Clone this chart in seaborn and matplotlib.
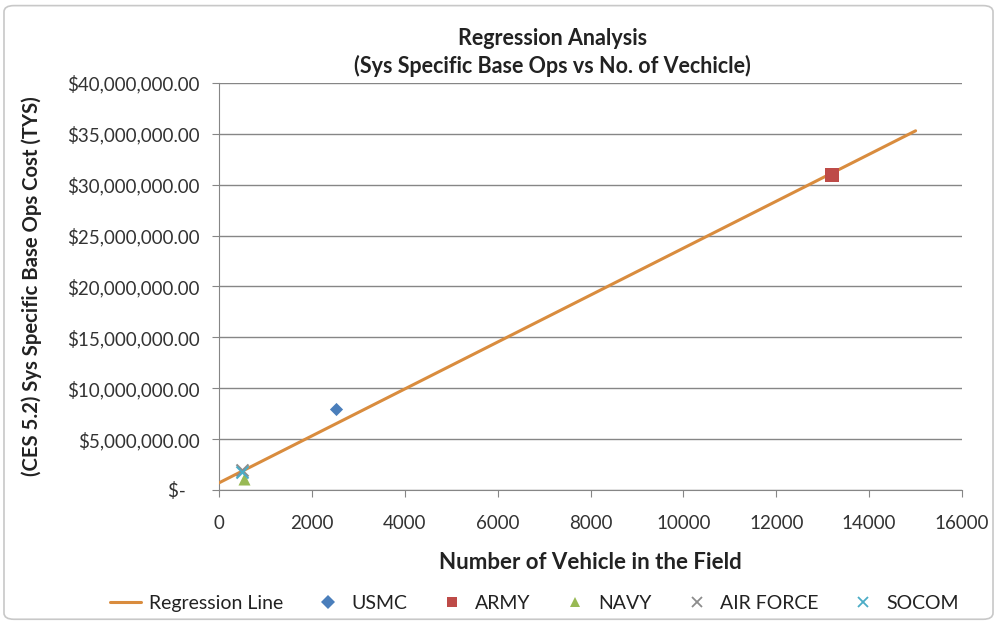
import matplotlib
matplotlib.use("Agg")
import matplotlib.pyplot as plt
import seaborn as sns
import pandas as pd
import numpy as np
from matplotlib.ticker import FuncFormatter, MultipleLocator
from matplotlib.patches import FancyBboxPatch
from matplotlib.lines import Line2D

# ---- data ----
agencies = ["USMC", "ARMY", "NAVY", "AIR FORCE", "SOCOM"]
vehicles = [2520, 13200, 540, 500, 500]
costs = [8.0e6, 31.0e6, 1.1e6, 2.0e6, 1.8e6]
reg_x = [0, 15000]
reg_y = [0.7e6, 35.3e6]
x_ticks = [0, 2000, 4000, 6000, 8000, 10000, 12000, 14000, 16000]

colors = {"USMC": "#4a7ebb", "ARMY": "#be4b48", "NAVY": "#98b954",
          "AIR FORCE": "#8c8c8c", "SOCOM": "#4bacc6"}
markers = {"USMC": "D", "ARMY": "s", "NAVY": "^", "AIR FORCE": "x", "SOCOM": "x"}
sizes = {"USMC": 45, "ARMY": 100, "NAVY": 75, "AIR FORCE": 75, "SOCOM": 75}
line_color = "#d98c3e"

sns.set_style("white")
plt.rcParams["font.family"] = ["Lato", "DejaVu Sans"]

fig = plt.figure(figsize=(9.99, 6.23), dpi=100)
ax = fig.add_axes([0.2192, 0.2135, 0.963 - 0.2192, 0.8668 - 0.2135])

reg_df = pd.DataFrame({"x": reg_x, "y": reg_y})
sns.lineplot(data=reg_df, x="x", y="y", ax=ax, color=line_color, lw=2.2, zorder=3)

pts = pd.DataFrame({"agency": agencies, "x": vehicles, "y": costs})
for a in agencies:
    sub = pts[pts["agency"] == a]
    sns.scatterplot(data=sub, x="x", y="y", ax=ax, marker=markers[a],
                    color=colors[a], s=sizes[a], linewidth=1.5 if markers[a] == "x" else 0,
                    edgecolor=colors[a], zorder=4)

ax.set_xlim(0, 16000)
ax.set_ylim(0, 40e6)
ax.set_xticks(x_ticks)
ax.yaxis.set_major_locator(MultipleLocator(5e6))

def yfmt(v, pos):
    if abs(v) < 1:
        return "$-   "
    return "${:,.2f}".format(v)

ax.yaxis.set_major_formatter(FuncFormatter(yfmt))
ax.grid(axis="y", color="#868686", lw=1)
ax.grid(axis="x", visible=False)
for s in ["top", "right"]:
    ax.spines[s].set_visible(False)
ax.spines["left"].set_color("#868686")
ax.spines["bottom"].set_color("#868686")
ax.tick_params(axis="both", which="major", direction="out", length=5, color="#868686",
               labelsize=13.5, labelcolor="#333333", left=True, bottom=True)
ax.tick_params(axis="y", pad=9)
ax.tick_params(axis="x", pad=13)
ax.set_axisbelow(True)

ax.set_xlabel("Number of Vehicle in the Field", fontsize=16, fontweight="bold",
              color="#222222")
ax.set_ylabel("(CES 5.2) Sys Specific Base Ops Cost (TYS)", fontsize=14.6,
              fontweight="bold", color="#222222")
ax.xaxis.set_label_coords(0.5, -0.152)
ax.yaxis.set_label_coords(-0.238, 0.5)

fig.text(0.553, 0.939, "Regression Analysis", ha="center", va="center",
         fontsize=15.5, fontweight="bold", color="#222222")
fig.text(0.553, 0.894, "(Sys Specific Base Ops vs No. of Vechicle)", ha="center",
         va="center", fontsize=15.5, fontweight="bold", color="#222222")

handles = [Line2D([0], [0], color=line_color, lw=2.2)]
labels = ["Regression Line"]
for a in agencies:
    handles.append(Line2D([0], [0], marker=markers[a], color=colors[a], lw=0,
                          markersize=7, markeredgewidth=1.3 if markers[a] == "x" else 0))
    labels.append(a)
fig.legend(handles, labels, loc="center", bbox_to_anchor=(0.535, 0.031), ncol=6,
           frameon=False, fontsize=14, handlelength=1.6, columnspacing=1.5,
           handletextpad=0.4, labelcolor="#222222")

border = FancyBboxPatch((0.004, 0.006), 0.99, 0.985, boxstyle="round,pad=0,rounding_size=0.01",
                        transform=fig.transFigure, fill=False, edgecolor="#c8c8c8", lw=1.2)
fig.patches.append(border)

fig.savefig("out.png", dpi=100)
